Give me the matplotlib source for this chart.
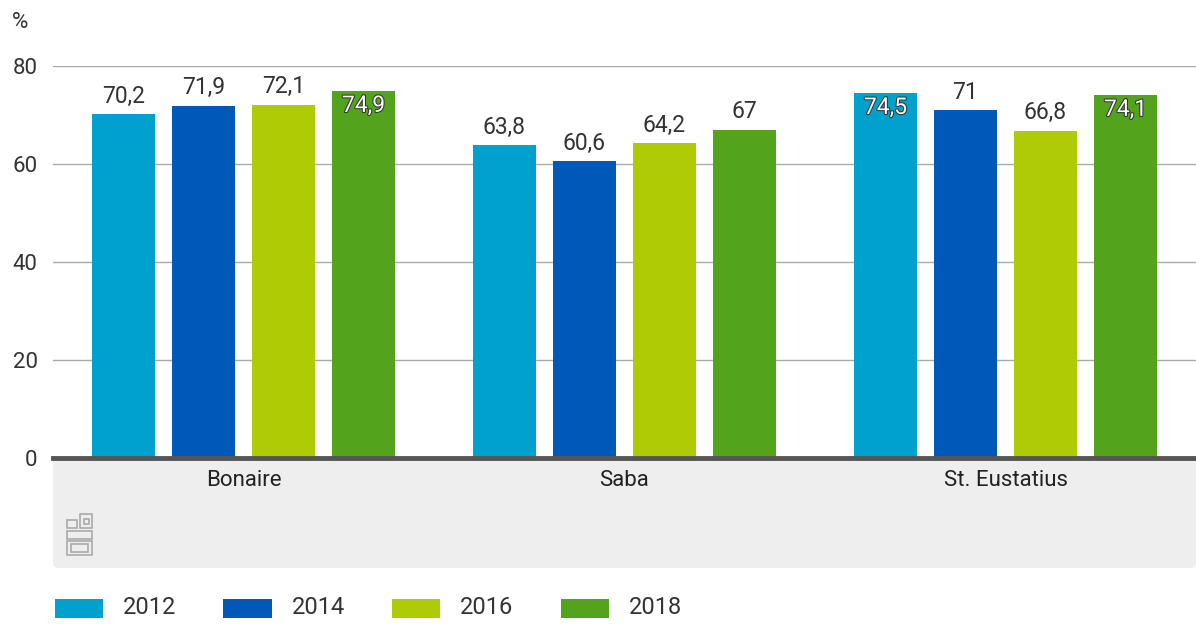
import numpy as np
import matplotlib.pyplot as plt
import matplotlib.patheffects as pe
from matplotlib.patches import FancyBboxPatch, Rectangle

plt.rcParams['font.family'] = ['Roboto', 'DejaVu Sans']

regions = ["Bonaire", "Saba", "St. Eustatius"]
years = ["2012", "2014", "2016", "2018"]
values = {
    "2012": [70.2, 63.8, 74.5],
    "2014": [71.9, 60.6, 71.0],
    "2016": [72.1, 64.2, 66.8],
    "2018": [74.9, 67.0, 74.1],
}
colors = ["#00a1cd", "#0058b8", "#afcb05", "#53a31d"]
yticks = [0, 20, 40, 60, 80]

W, H = 1196, 624
fig = plt.figure(figsize=(W / 100, H / 100), dpi=100)

# grey band under the axis with the category labels
band = FancyBboxPatch((53 / W, 1 - 568 / H), (W - 53) / W, 110 / H,
                      boxstyle="round,pad=0,rounding_size=0.006",
                      transform=fig.transFigure, facecolor="#eeeeee",
                      edgecolor="none", zorder=0)
fig.patches.append(band)

ax = fig.add_axes([53 / W, 1 - 458 / H, (W - 53) / W, 392 / H])
ax.set_facecolor("none")
ax.set_zorder(2)

x = np.arange(len(regions))
width = 0.165
step = 0.21
for i, (yr, c) in enumerate(zip(years, colors)):
    pos = x + (i - 1.5) * step
    ax.bar(pos, values[yr], width, color=c, zorder=3)
    for px, v in zip(pos, values[yr]):
        txt = f"{v:g}".replace(".", ",")
        if v > 73:
            ax.text(px, v - 0.6, txt, ha="center", va="top", fontsize=16.5,
                    color="white", zorder=4,
                    path_effects=[pe.withStroke(linewidth=1.5, foreground="#333333")])
        else:
            ax.text(px, v + 1.3, txt, ha="center", va="bottom", fontsize=16.5,
                    color="#333333", zorder=4)

ax.set_xlim(-0.5, 2.5)
ax.set_ylim(0, 80)
ax.set_yticks(yticks)
ax.set_yticklabels([str(t) for t in yticks], fontsize=16, color="#333333")
ax.set_xticks(x)
ax.set_xticklabels(regions, fontsize=16, color="#222222")
ax.tick_params(axis="y", length=0, pad=11)
ax.tick_params(axis="x", length=0, pad=9)
ax.grid(axis="y", color="#aaaaaa", linewidth=1, zorder=0)
for s in ["top", "right", "left"]:
    ax.spines[s].set_visible(False)
ax.spines["bottom"].set_color("#555555")
ax.spines["bottom"].set_linewidth(3.5)
ax.spines["bottom"].set_zorder(5)

fig.text(12 / W, 1 - 22 / H, "%", fontsize=16, color="#333333", va="center")

# simple CBS logo sketch
lc = "#aaaaaa"
def frect(x0, y0, w, h):
    fig.patches.append(Rectangle((x0 / W, 1 - (y0 + h) / H), w / W, h / H,
                                 transform=fig.transFigure, fill=False,
                                 edgecolor=lc, linewidth=1.2))
frect(67, 520, 10, 8)
frect(80, 514, 12, 14)
frect(84, 519, 5, 5)
frect(67, 531, 25, 8)
frect(67, 541, 25, 14)
frect(71, 544, 17, 8)

# legend
for i, (yr, c) in enumerate(zip(years, colors)):
    x0 = 55 + i * 168.5
    fig.patches.append(Rectangle((x0 / W, 1 - 618 / H), 48 / W, 19 / H,
                                 transform=fig.transFigure, facecolor=c,
                                 edgecolor="none"))
    fig.text((x0 + 68) / W, 1 - 608 / H, yr, fontsize=17, color="#333333",
             va="center")

fig.savefig("out.png", dpi=100)
